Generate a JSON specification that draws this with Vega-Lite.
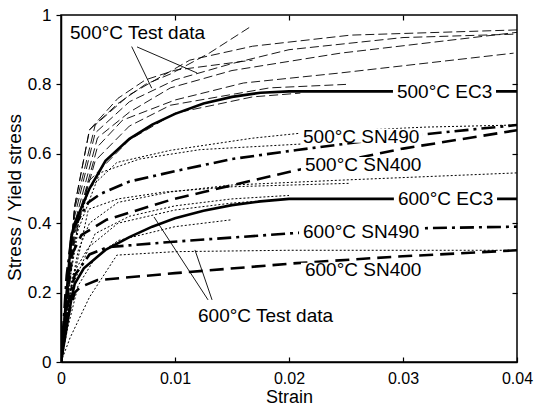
{
"$schema":"https://vega.github.io/schema/vega-lite/v6.json",
"width":456,"height":347,
"autosize":{"type":"none"},
"padding":{"left":61,"top":15,"right":22,"bottom":47},
"background":"white",
"config":{"view":{"stroke":"black","strokeWidth":1.5},
"axis":{"labelFont":"Liberation Sans","titleFont":"Liberation Sans","labelFontSize":17,"titleFontSize":18,"titleFontWeight":"normal","labelColor":"black","titleColor":"black","domainColor":"black","tickColor":"black","grid":false,"domainWidth":1.5,"tickWidth":1.2}},
"datasets":{
"curves":[
{"c":"A","g":"t500","x":0,"y":0},{"c":"A","g":"t500","x":0.0012,"y":0.45},{"c":"A","g":"t500","x":0.0025,"y":0.669},{"c":"A","g":"t500","x":0.005,"y":0.745},{"c":"A","g":"t500","x":0.0074,"y":0.8},{"c":"A","g":"t500","x":0.0096,"y":0.83},{"c":"A","g":"t500","x":0.013,"y":0.89},{"c":"A","g":"t500","x":0.0168,"y":0.97},
{"c":"B","g":"t500","x":0,"y":0},{"c":"B","g":"t500","x":0.0012,"y":0.45},{"c":"B","g":"t500","x":0.0025,"y":0.669},{"c":"B","g":"t500","x":0.005,"y":0.76},{"c":"B","g":"t500","x":0.0074,"y":0.813},{"c":"B","g":"t500","x":0.01,"y":0.841},{"c":"B","g":"t500","x":0.0168,"y":0.87},
{"c":"C","g":"t500","x":0,"y":0},{"c":"C","g":"t500","x":0.0012,"y":0.44},{"c":"C","g":"t500","x":0.003,"y":0.683},{"c":"C","g":"t500","x":0.006,"y":0.77},{"c":"C","g":"t500","x":0.0113,"y":0.87},{"c":"C","g":"t500","x":0.0168,"y":0.91},{"c":"C","g":"t500","x":0.0254,"y":0.942},{"c":"C","g":"t500","x":0.04,"y":0.957},
{"c":"D","g":"t500","x":0,"y":0},{"c":"D","g":"t500","x":0.0012,"y":0.42},{"c":"D","g":"t500","x":0.003,"y":0.66},{"c":"D","g":"t500","x":0.006,"y":0.75},{"c":"D","g":"t500","x":0.01,"y":0.813},{"c":"D","g":"t500","x":0.015,"y":0.86},{"c":"D","g":"t500","x":0.02,"y":0.9},{"c":"D","g":"t500","x":0.03,"y":0.935},{"c":"D","g":"t500","x":0.04,"y":0.945},
{"c":"E","g":"t500","x":0,"y":0},{"c":"E","g":"t500","x":0.0012,"y":0.4},{"c":"E","g":"t500","x":0.0032,"y":0.646},{"c":"E","g":"t500","x":0.006,"y":0.72},{"c":"E","g":"t500","x":0.0096,"y":0.79},{"c":"E","g":"t500","x":0.015,"y":0.84},{"c":"E","g":"t500","x":0.0245,"y":0.89},{"c":"E","g":"t500","x":0.04,"y":0.95},
{"c":"F","g":"t500","x":0,"y":0},{"c":"F","g":"t500","x":0.0012,"y":0.38},{"c":"F","g":"t500","x":0.0032,"y":0.62},{"c":"F","g":"t500","x":0.0054,"y":0.697},{"c":"F","g":"t500","x":0.01,"y":0.755},{"c":"F","g":"t500","x":0.016,"y":0.804},{"c":"F","g":"t500","x":0.0245,"y":0.833},{"c":"F","g":"t500","x":0.0397,"y":0.89},
{"c":"G","g":"t500","x":0,"y":0},{"c":"G","g":"t500","x":0.0012,"y":0.37},{"c":"G","g":"t500","x":0.003,"y":0.58},{"c":"G","g":"t500","x":0.006,"y":0.68},{"c":"G","g":"t500","x":0.0096,"y":0.74},{"c":"G","g":"t500","x":0.0183,"y":0.79},{"c":"G","g":"t500","x":0.025,"y":0.8},
{"c":"H","g":"t500","x":0,"y":0},{"c":"H","g":"t500","x":0.0012,"y":0.35},{"c":"H","g":"t500","x":0.0024,"y":0.52},{"c":"H","g":"t500","x":0.006,"y":0.64},{"c":"H","g":"t500","x":0.01,"y":0.717},{"c":"H","g":"t500","x":0.0168,"y":0.764},{"c":"H","g":"t500","x":0.021,"y":0.775},
{"c":"D1","g":"t600","x":0,"y":0},{"c":"D1","g":"t600","x":0.0008,"y":0.25},{"c":"D1","g":"t600","x":0.0015,"y":0.4},{"c":"D1","g":"t600","x":0.0025,"y":0.5},{"c":"D1","g":"t600","x":0.0049,"y":0.575},{"c":"D1","g":"t600","x":0.0096,"y":0.61},{"c":"D1","g":"t600","x":0.0168,"y":0.645},{"c":"D1","g":"t600","x":0.0212,"y":0.66},{"c":"D1","g":"t600","x":0.032,"y":0.677},{"c":"D1","g":"t600","x":0.04,"y":0.683},
{"c":"D2","g":"t600","x":0,"y":0},{"c":"D2","g":"t600","x":0.0008,"y":0.24},{"c":"D2","g":"t600","x":0.0015,"y":0.38},{"c":"D2","g":"t600","x":0.0034,"y":0.545},{"c":"D2","g":"t600","x":0.0069,"y":0.585},{"c":"D2","g":"t600","x":0.0122,"y":0.612},{"c":"D2","g":"t600","x":0.021,"y":0.628},
{"c":"D3","g":"t600","x":0,"y":0},{"c":"D3","g":"t600","x":0.0008,"y":0.2},{"c":"D3","g":"t600","x":0.0015,"y":0.32},{"c":"D3","g":"t600","x":0.0025,"y":0.4},{"c":"D3","g":"t600","x":0.005,"y":0.46},{"c":"D3","g":"t600","x":0.0096,"y":0.49},{"c":"D3","g":"t600","x":0.015,"y":0.51},{"c":"D3","g":"t600","x":0.0245,"y":0.524},{"c":"D3","g":"t600","x":0.04,"y":0.545},
{"c":"D4","g":"t600","x":0,"y":0},{"c":"D4","g":"t600","x":0.0008,"y":0.2},{"c":"D4","g":"t600","x":0.0015,"y":0.3},{"c":"D4","g":"t600","x":0.0024,"y":0.44},{"c":"D4","g":"t600","x":0.005,"y":0.47},{"c":"D4","g":"t600","x":0.0091,"y":0.49},{"c":"D4","g":"t600","x":0.015,"y":0.505},{"c":"D4","g":"t600","x":0.0254,"y":0.515},
{"c":"D5","g":"t600","x":0,"y":0},{"c":"D5","g":"t600","x":0.001,"y":0.25},{"c":"D5","g":"t600","x":0.0024,"y":0.33},{"c":"D5","g":"t600","x":0.005,"y":0.4},{"c":"D5","g":"t600","x":0.01,"y":0.438},{"c":"D5","g":"t600","x":0.015,"y":0.458},{"c":"D5","g":"t600","x":0.02,"y":0.47},
{"c":"D6","g":"t600","x":0,"y":0},{"c":"D6","g":"t600","x":0.001,"y":0.22},{"c":"D6","g":"t600","x":0.003,"y":0.37},{"c":"D6","g":"t600","x":0.006,"y":0.42},{"c":"D6","g":"t600","x":0.01,"y":0.45},{"c":"D6","g":"t600","x":0.015,"y":0.47},{"c":"D6","g":"t600","x":0.02,"y":0.48},
{"c":"D7","g":"t600","x":0,"y":0},{"c":"D7","g":"t600","x":0.0008,"y":0.07},{"c":"D7","g":"t600","x":0.0025,"y":0.187},{"c":"D7","g":"t600","x":0.0049,"y":0.308},{"c":"D7","g":"t600","x":0.01,"y":0.318},{"c":"D7","g":"t600","x":0.02,"y":0.322},{"c":"D7","g":"t600","x":0.04,"y":0.322},
{"c":"D8","g":"t600","x":0,"y":0},{"c":"D8","g":"t600","x":0.0006,"y":0.1},{"c":"D8","g":"t600","x":0.0015,"y":0.22},{"c":"D8","g":"t600","x":0.003,"y":0.3},{"c":"D8","g":"t600","x":0.005,"y":0.35},{"c":"D8","g":"t600","x":0.01,"y":0.39},{"c":"D8","g":"t600","x":0.015,"y":0.41},
{"c":"E5","g":"ec3","x":0,"y":0},{"c":"E5","g":"ec3","x":0.0009,"y":0.36},{"c":"E5","g":"ec3","x":0.0012,"y":0.4},{"c":"E5","g":"ec3","x":0.0018,"y":0.445},{"c":"E5","g":"ec3","x":0.0025,"y":0.5},{"c":"E5","g":"ec3","x":0.0039,"y":0.58},{"c":"E5","g":"ec3","x":0.006,"y":0.643},{"c":"E5","g":"ec3","x":0.008,"y":0.684},{"c":"E5","g":"ec3","x":0.01,"y":0.715},{"c":"E5","g":"ec3","x":0.0125,"y":0.745},{"c":"E5","g":"ec3","x":0.015,"y":0.764},{"c":"E5","g":"ec3","x":0.0175,"y":0.776},{"c":"E5","g":"ec3","x":0.02,"y":0.78},{"c":"E5","g":"ec3","x":0.04,"y":0.78},
{"c":"E6","g":"ec3","x":0,"y":0},{"c":"E6","g":"ec3","x":0.0009,"y":0.18},{"c":"E6","g":"ec3","x":0.0012,"y":0.225},{"c":"E6","g":"ec3","x":0.002,"y":0.27},{"c":"E6","g":"ec3","x":0.0039,"y":0.323},{"c":"E6","g":"ec3","x":0.006,"y":0.36},{"c":"E6","g":"ec3","x":0.008,"y":0.39},{"c":"E6","g":"ec3","x":0.01,"y":0.414},{"c":"E6","g":"ec3","x":0.0125,"y":0.436},{"c":"E6","g":"ec3","x":0.015,"y":0.452},{"c":"E6","g":"ec3","x":0.0175,"y":0.463},{"c":"E6","g":"ec3","x":0.02,"y":0.47},{"c":"E6","g":"ec3","x":0.04,"y":0.47},
{"c":"S5","g":"sn490","x":0,"y":0},{"c":"S5","g":"sn490","x":0.0005,"y":0.25},{"c":"S5","g":"sn490","x":0.001,"y":0.38},{"c":"S5","g":"sn490","x":0.0024,"y":0.46},{"c":"S5","g":"sn490","x":0.0035,"y":0.485},{"c":"S5","g":"sn490","x":0.006,"y":0.52},{"c":"S5","g":"sn490","x":0.01,"y":0.55},{"c":"S5","g":"sn490","x":0.015,"y":0.585},{"c":"S5","g":"sn490","x":0.0207,"y":0.611},{"c":"S5","g":"sn490","x":0.03,"y":0.65},{"c":"S5","g":"sn490","x":0.04,"y":0.683},
{"c":"S6","g":"sn490","x":0,"y":0},{"c":"S6","g":"sn490","x":0.0005,"y":0.15},{"c":"S6","g":"sn490","x":0.0012,"y":0.25},{"c":"S6","g":"sn490","x":0.0025,"y":0.31},{"c":"S6","g":"sn490","x":0.0041,"y":0.331},{"c":"S6","g":"sn490","x":0.0096,"y":0.346},{"c":"S6","g":"sn490","x":0.0207,"y":0.372},{"c":"S6","g":"sn490","x":0.0324,"y":0.386},{"c":"S6","g":"sn490","x":0.04,"y":0.39},
{"c":"N5","g":"sn400","x":0,"y":0},{"c":"N5","g":"sn400","x":0.0008,"y":0.3},{"c":"N5","g":"sn400","x":0.0018,"y":0.366},{"c":"N5","g":"sn400","x":0.004,"y":0.41},{"c":"N5","g":"sn400","x":0.0096,"y":0.467},{"c":"N5","g":"sn400","x":0.0125,"y":0.49},{"c":"N5","g":"sn400","x":0.0207,"y":0.553},{"c":"N5","g":"sn400","x":0.03,"y":0.615},{"c":"N5","g":"sn400","x":0.04,"y":0.668},
{"c":"N6","g":"sn400","x":0,"y":0},{"c":"N6","g":"sn400","x":0.0005,"y":0.12},{"c":"N6","g":"sn400","x":0.0012,"y":0.2},{"c":"N6","g":"sn400","x":0.0017,"y":0.216},{"c":"N6","g":"sn400","x":0.0032,"y":0.236},{"c":"N6","g":"sn400","x":0.01,"y":0.256},{"c":"N6","g":"sn400","x":0.0207,"y":0.285},{"c":"N6","g":"sn400","x":0.0291,"y":0.303},{"c":"N6","g":"sn400","x":0.04,"y":0.322}
],
"leaders":[
{"x":0.0062,"y":0.909,"x2":0.00796,"y2":0.789},
{"x":0.00667,"y":0.908,"x2":0.01193,"y2":0.833},
{"x":0.0129,"y":0.179,"x2":0.00816,"y2":0.418},
{"x":0.01325,"y":0.179,"x2":0.01175,"y2":0.323}
],
"boxes":[
{"x":0.02912,"x2":0.03816,"y":0.755,"y2":0.801},
{"x":0.02088,"x2":0.03175,"y":0.632,"y2":0.672},
{"x":0.02105,"x2":0.0319,"y":0.545,"y2":0.591},
{"x":0.0292,"x2":0.03825,"y":0.447,"y2":0.493},
{"x":0.02088,"x2":0.03175,"y":0.352,"y2":0.398},
{"x":0.02105,"x2":0.0319,"y":0.24,"y2":0.286}
],
"labels":[
{"t":"500°C Test data","x":0.00079,"y":0.948},
{"t":"500°C EC3","x":0.02947,"y":0.778},
{"t":"500°C SN490","x":0.02123,"y":0.648},
{"t":"500°C SN400","x":0.0214,"y":0.568},
{"t":"600°C EC3","x":0.02956,"y":0.47},
{"t":"600°C SN490","x":0.02123,"y":0.375},
{"t":"600°C SN400","x":0.0214,"y":0.265},
{"t":"600°C Test data","x":0.01202,"y":0.133}
]
},
"resolve":{"axis":{"x":"independent","y":"independent"}},
"layer":[
{"data":{"name":"curves"},"transform":[{"filter":"datum.g==='t500'"}],
 "mark":{"type":"line","color":"black","strokeWidth":0.9,"strokeDash":[9,4],"clip":true},
 "encoding":{
  "x":{"field":"x","type":"quantitative","scale":{"domain":[0,0.04],"nice":false,"zero":true},
   "axis":{"orient":"bottom","title":"Strain","labelFontSize":16,"values":[0,0.01,0.02,0.03,0.04],"format":".2~f","tickSize":-5,"labelPadding":13,"titlePadding":2,"labelFlush":false}},
  "y":{"field":"y","type":"quantitative","scale":{"domain":[0,1],"nice":false},
   "axis":{"orient":"left","title":"Stress / Yield stress","titleFontSize":19,"titleY":182,"values":[0,0.2,0.4,0.6,0.8,1],"format":".1~f","tickSize":5,"labelPadding":5,"titlePadding":3,"labelFlush":false}},
  "detail":{"field":"c"}}},
{"data":{"name":"curves"},"transform":[{"filter":"datum.g==='t600'"}],
 "mark":{"type":"line","color":"black","strokeWidth":1,"strokeDash":[2,2],"clip":true},
 "encoding":{"x":{"field":"x","type":"quantitative","axis":null},"y":{"field":"y","type":"quantitative","axis":null},"detail":{"field":"c"}}},
{"data":{"name":"curves"},"transform":[{"filter":"datum.g==='ec3'"}],
 "mark":{"type":"line","color":"black","strokeWidth":2.6,"clip":true},
 "encoding":{"x":{"field":"x","type":"quantitative","axis":null},"y":{"field":"y","type":"quantitative","axis":null},"detail":{"field":"c"}}},
{"data":{"name":"curves"},"transform":[{"filter":"datum.g==='sn490'"}],
 "mark":{"type":"line","color":"black","strokeWidth":2.6,"strokeDash":[14,5,3,5],"clip":true},
 "encoding":{"x":{"field":"x","type":"quantitative","axis":null},"y":{"field":"y","type":"quantitative","axis":null},"detail":{"field":"c"}}},
{"data":{"name":"curves"},"transform":[{"filter":"datum.g==='sn400'"}],
 "mark":{"type":"line","color":"black","strokeWidth":2.6,"strokeDash":[14,7],"clip":true},
 "encoding":{"x":{"field":"x","type":"quantitative","axis":null},"y":{"field":"y","type":"quantitative","axis":null},"detail":{"field":"c"}}},
{"data":{"name":"leaders"},"mark":{"type":"rule","color":"black","strokeWidth":0.9},
 "encoding":{"x":{"field":"x","type":"quantitative","axis":null},"y":{"field":"y","type":"quantitative","axis":null},"x2":{"field":"x2"},"y2":{"field":"y2"}}},
{"data":{"name":"boxes"},"mark":{"type":"rect","fill":"white"},
 "encoding":{"x":{"field":"x","type":"quantitative","axis":null},"y":{"field":"y","type":"quantitative","axis":null},"x2":{"field":"x2"},"y2":{"field":"y2"}}},
{"data":{"name":"labels"},"mark":{"type":"text","align":"left","baseline":"middle","font":"Liberation Sans","fontSize":19,"color":"black"},
 "encoding":{"x":{"field":"x","type":"quantitative","axis":null},"y":{"field":"y","type":"quantitative","axis":null},"text":{"field":"t"}}},
{"data":{"values":[{"x":0,"y":0}]},"mark":{"type":"point","opacity":0},
 "encoding":{"x":{"field":"x","type":"quantitative","axis":{"orient":"top","title":null,"labels":false,"domain":false,"values":[0.01,0.02,0.03],"tickSize":-5}},
  "y":{"field":"y","type":"quantitative","axis":{"orient":"right","title":null,"labels":false,"domain":false,"values":[0.2,0.4,0.6,0.8],"tickSize":-5}}}}
]
}
